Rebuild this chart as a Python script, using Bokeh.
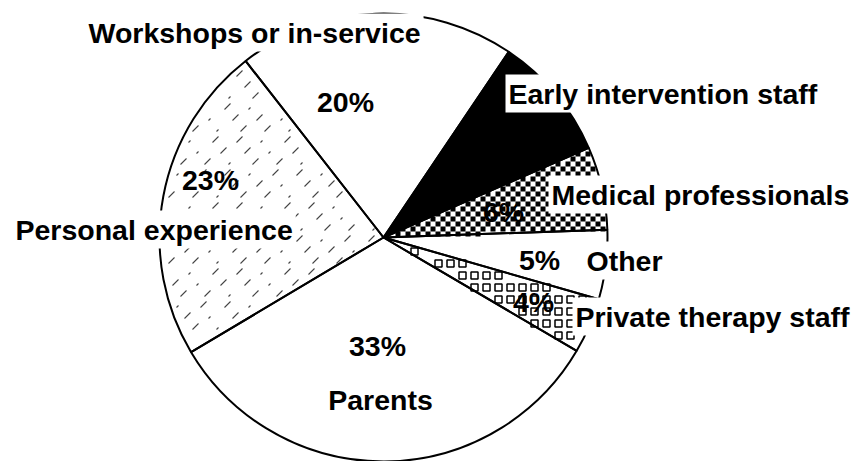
import math
from bokeh.plotting import figure
from bokeh.models import ColumnDataSource, Range1d
from bokeh.core.properties import value
from bokeh.embed import file_html
from bokeh.resources import INLINE

# ---- data (clockwise from the Workshops / Early intervention border) ----
categories = ["Early intervention staff", "Medical professionals", "Other",
              "Private therapy staff", "Parents", "Personal experience",
              "Workshops or in-service"]
percents = [9, 6, 5, 4, 33, 23, 20]

# ---- styles / layout (kept separate from the data) ----
fills = ["black", "white", "white", "white", "white", "white", "white"]
patterns = [None, "checker", None, "squares", None, "dashes", None]
start_deg = 56.0
W, H = 855, 461
cx, cy, R = 383, 224, 224

cat_x = [505, 548, 583, 572, 380, 12, 85]
cat_y = [368, 267, 201, 145, 62, 232, 429]
cat_align = ["left", "left", "left", "left", "center", "left", "left"]
cat_bg = ["white", "white", "white", "white", None, "white", "white"]
pct_x = [486, 503, 539, 533, 377, 210, 345]
pct_y = [312, 250, 202, 160, 116, 282, 360]
pct_color = ["black"] * 7
FONT_SIZE = "28.5px"

# wedge angles
starts, ends, lo_deg, span_deg = [], [], [], []
acc = 0.0
for v in percents:
    a0 = start_deg - acc * 3.6
    a1 = start_deg - (acc + v) * 3.6
    starts.append(math.radians(a1))
    ends.append(math.radians(a0))
    lo_deg.append(a1)
    span_deg.append(v * 3.6)
    acc += v

src = ColumnDataSource(dict(cat=categories, pct=percents, start=starts, end=ends,
                            fill=fills))

p = figure(width=W, height=H, x_range=Range1d(0, W), y_range=Range1d(0, H),
           min_border=0, toolbar_location=None, output_backend="svg",
           x_axis_type=None, y_axis_type=None)
p.grid.visible = False
p.outline_line_color = None
p.background_fill_color = "white"
p.border_fill_color = "white"

# slice fills
p.wedge(x=cx, y=cy, radius=R, start_angle="start", end_angle="end",
        fill_color="fill", line_color=None, source=src)


def inside(x, y, k, rmax, margin_deg=0.0):
    dx, dy = x - cx, y - cy
    r = math.hypot(dx, dy)
    if r > rmax or r < 1:
        return False
    a = math.degrees(math.atan2(dy, dx))
    d = (a - lo_deg[k] - margin_deg) % 360.0
    return d <= span_deg[k] - 2 * margin_deg


# textures drawn from slice geometry
for k, pat in enumerate(patterns):
    if pat == "checker":
        s = 5
        xs, ys = [], []
        for i in range(int((cx - R) // s), int((cx + R) // s) + 1):
            for j in range(int((cy - R) // s), int((cy + R) // s) + 1):
                if (i + j) % 2:
                    continue
                x, y = i * s + s / 2, j * s + s / 2
                if inside(x, y, k, R - 2):
                    xs.append(x); ys.append(y)
        p.rect(x=xs, y=ys, width=s, height=s, fill_color="black", line_color=None)
    elif pat == "squares":
        s, side = 12, 7
        xs, ys = [], []
        for i in range(int((cx - R) // s), int((cx + R) // s) + 1):
            for j in range(int((cy - R) // s), int((cy + R) // s) + 1):
                x, y = i * s + s / 2, j * s + s / 2
                h = side / 2
                corners_in = sum(inside(x + ox, y + oy, k, R - 2)
                                 for ox in (-h, h) for oy in (-h, h))
                if corners_in >= 3:
                    xs.append(x); ys.append(y)
        p.rect(x=xs, y=ys, width=side, height=side, fill_color="white",
               line_color="black", line_width=1.5)
    elif pat == "dashes":
        x0s, y0s, x1s, y1s = [], [], [], []
        for j in range(int((cy - R) // 11), int((cy + R) // 11) + 1):
            for i in range(int((cx - R) // 24) - 1, int((cx + R) // 24) + 1):
                x = i * 24 + (j % 2) * 12 + (j % 3) * 4
                y = j * 11
                ln = 6 if (i + j) % 3 else 2
                if inside(x, y, k, R - 4, 1.0) and inside(x + ln, y + ln, k, R - 4, 1.0):
                    x0s.append(x); y0s.append(y); x1s.append(x + ln); y1s.append(y + ln)
        p.segment(x0=x0s, y0=y0s, x1=x1s, y1=y1s, line_color="#444444", line_width=1.1)

# slice outlines
p.wedge(x=cx, y=cy, radius=R, start_angle="start", end_angle="end",
        fill_color=None, line_color="black", line_width=2, source=src)

font = value("Liberation Sans")

pct_src = ColumnDataSource(dict(x=pct_x, y=pct_y, t=[f"{v}%" for v in percents],
                                c=pct_color))
p.text(x="x", y="y", text="t", source=pct_src, text_font=font,
       text_font_style="bold", text_font_size=FONT_SIZE, text_color="c",
       text_align="center", text_baseline="middle")

for i, name in enumerate(categories):
    kw = {}
    if cat_bg[i]:
        kw = dict(background_fill_color=cat_bg[i], padding=3)
    p.text(x=[cat_x[i]], y=[cat_y[i]], text=[name], text_font=font,
           text_font_style="bold", text_font_size=FONT_SIZE, text_color="black",
           text_align=cat_align[i], text_baseline="middle", **kw)

open("out.html", "w").write(file_html(p, INLINE))
